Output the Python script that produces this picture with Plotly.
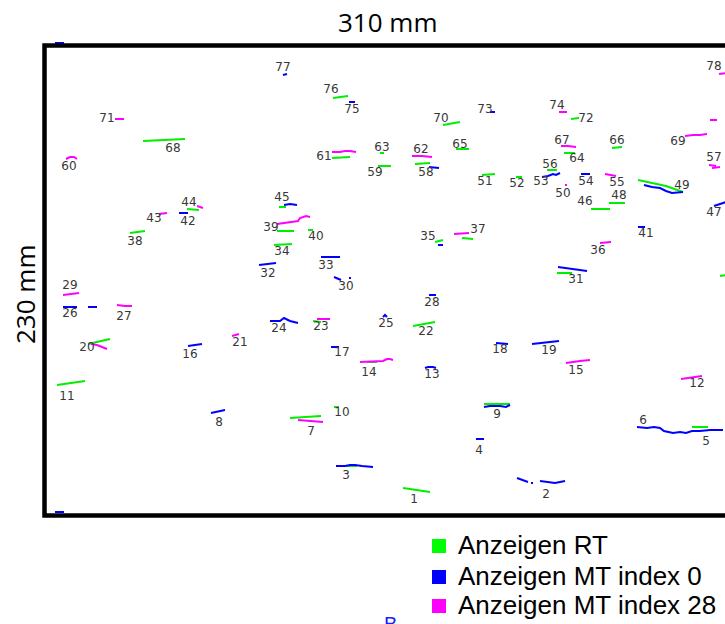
import plotly.graph_objects as go

# ---- data (reference image coordinates, px) ----
# Anzeigen RT (green) indications as polylines
RT_SEGMENTS = [
    [(403, 488), (430, 492)],
    [(340, 466), (357, 466)],
    [(692, 427), (708, 427)],
    [(290, 418), (305, 417), (321, 416)],
    [(484, 404), (510, 404)],
    [(334, 407), (339, 407)],
    [(57, 385), (85, 381)],
    [(367, 362), (377, 362)],
    [(88, 344), (110, 339)],
    [(413, 326), (435, 322)],
    [(313, 321), (321, 322)],
    [(557, 273), (572, 273)],
    [(720, 276), (726, 275)],
    [(274, 245), (292, 244)],
    [(435, 242), (443, 240)],
    [(462, 238), (473, 239)],
    [(130, 233), (145, 231)],
    [(277, 231), (294, 231)],
    [(308, 230), (313, 230)],
    [(187, 209), (199, 210)],
    [(279, 207), (286, 207)],
    [(591, 209), (610, 209)],
    [(609, 203), (625, 203)],
    [(638, 180), (666, 186), (683, 192)],
    [(482, 175), (495, 174)],
    [(516, 177), (522, 177)],
    [(547, 170), (557, 170)],
    [(415, 164), (430, 163)],
    [(378, 166), (391, 166)],
    [(332, 158), (350, 157)],
    [(380, 153), (384, 153)],
    [(564, 153), (575, 153)],
    [(456, 149), (469, 149)],
    [(612, 148), (622, 147)],
    [(143, 141), (164, 140), (185, 139)],
    [(443, 125), (460, 122)],
    [(571, 119), (579, 118)],
    [(333, 98), (348, 96)],
]

# Anzeigen MT index 0 (blue)
MT0_SEGMENTS = [
    [(517, 478), (522, 480), (528, 482)],
    [(531, 483), (533, 483)],
    [(540, 481), (548, 482), (555, 483), (560, 482), (565, 481)],
    [(336, 466), (345, 466), (350, 465), (355, 465), (362, 466), (373, 467)],
    [(476, 439), (484, 439)],
    [(637, 427), (647, 428), (654, 427), (660, 428), (664, 431), (673, 433),
     (680, 432), (686, 433), (692, 431), (700, 431), (710, 430), (723, 430)],
    [(211, 413), (225, 410)],
    [(484, 407), (490, 406), (500, 406), (506, 407), (510, 405)],
    [(425, 368), (428, 367), (433, 367), (436, 368)],
    [(188, 346), (202, 344)],
    [(331, 347), (339, 347)],
    [(496, 343), (508, 344)],
    [(532, 344), (559, 341)],
    [(270, 321), (280, 321), (284, 318), (290, 321), (298, 323)],
    [(383, 317), (385, 315), (387, 317)],
    [(63, 307), (77, 307)],
    [(88, 307), (97, 307)],
    [(429, 295), (436, 295)],
    [(334, 277), (341, 280)],
    [(349, 278), (351, 278)],
    [(558, 267), (572, 269), (587, 271)],
    [(259, 265), (268, 264), (276, 263)],
    [(321, 257), (340, 257)],
    [(438, 245), (443, 245)],
    [(638, 227), (645, 227)],
    [(179, 213), (188, 213)],
    [(284, 205), (290, 204), (297, 205)],
    [(714, 206), (726, 202)],
    [(644, 185), (652, 187), (660, 188), (666, 191), (672, 193), (683, 192)],
    [(542, 177), (548, 176), (553, 174), (556, 175), (560, 173)],
    [(581, 174), (590, 174)],
    [(429, 167), (439, 168)],
    [(490, 112), (495, 112)],
    [(349, 102), (355, 102)],
    [(283, 75), (287, 74)],
    [(55, 43), (64, 43)],
    [(55, 512), (64, 512)],
]

# Anzeigen MT index 28 (magenta)
MT28_SEGMENTS = [
    [(298, 420), (310, 421), (323, 422)],
    [(681, 379), (690, 378), (702, 376)],
    [(360, 362), (375, 361), (383, 361), (387, 359), (390, 359), (393, 360)],
    [(566, 363), (572, 362), (580, 361), (590, 360)],
    [(91, 344), (97, 345), (107, 349)],
    [(232, 336), (239, 334)],
    [(317, 319), (330, 319)],
    [(117, 305), (125, 306), (132, 306)],
    [(63, 295), (71, 294), (79, 293)],
    [(600, 243), (611, 242)],
    [(454, 234), (469, 233)],
    [(277, 224), (290, 222), (298, 221), (300, 218), (306, 216), (310, 217)],
    [(159, 214), (167, 213)],
    [(197, 206), (203, 208)],
    [(565, 185), (567, 185)],
    [(605, 174), (610, 175), (616, 176)],
    [(709, 165), (716, 166)],
    [(712, 168), (720, 167)],
    [(66, 159), (70, 157), (74, 157), (77, 159)],
    [(332, 152), (340, 152), (345, 151), (350, 151), (356, 152)],
    [(412, 156), (422, 156), (432, 157)],
    [(561, 146), (568, 146), (576, 147)],
    [(685, 136), (693, 135), (700, 135), (707, 134)],
    [(115, 119), (124, 119)],
    [(559, 112), (567, 112)],
    [(719, 74), (726, 73)],
    [(710, 120), (717, 120)],
]

LABEL_IDS = list(range(1, 79))
LABEL_X = [414, 546, 346, 479, 706, 643, 311, 219, 497, 342,
           67, 697, 432, 369, 576, 190, 342, 500, 549, 87,
           240, 426, 321, 279, 386, 70, 124, 432, 70, 346,
           576, 268, 326, 282, 428, 598, 478, 135, 271, 316,
           646, 188, 154, 189, 282, 585, 714, 619, 682, 563,
           485, 517, 541, 586, 617, 550, 714, 426, 375, 69,
           324, 421, 382, 577, 460, 617, 562, 173, 678, 441,
           107, 586, 485, 557, 352, 331, 283, 714]
LABEL_Y = [500, 495, 476, 451, 442, 421, 432, 423, 415, 413,
           397, 384, 375, 373, 371, 355, 353, 350, 351, 348,
           343, 332, 327, 329, 324, 314, 317, 303, 286, 287,
           280, 274, 266, 252, 237, 251, 230, 242, 228, 237,
           234, 222, 219, 203, 198, 202, 213, 196, 186, 194,
           182, 184, 182, 182, 183, 165, 158, 173, 173, 167,
           157, 150, 148, 159, 145, 141, 141, 149, 142, 119,
           119, 119, 110, 106, 110, 90, 68, 67]

SERIES_NAMES = ["Anzeigen RT", "Anzeigen MT index 0", "Anzeigen MT index 28"]
TITLE_X = "310 mm"
TITLE_Y = "230 mm"

# ---- styles ----
COLORS = ["#00ee00", "#0000ff", "#ff00ff"]
LEGEND_COLORS = ["#00ff00", "#0000ff", "#ff00ff"]


def flatten(segs):
    xs, ys = [], []
    for seg in segs:
        for x, y in seg:
            xs.append(x)
            ys.append(y)
        xs.append(None)
        ys.append(None)
    return xs, ys


fig = go.Figure()

for segs, col, name in zip([RT_SEGMENTS, MT0_SEGMENTS, MT28_SEGMENTS], COLORS, SERIES_NAMES):
    xs, ys = flatten(segs)
    fig.add_trace(go.Scatter(x=xs, y=ys, mode="lines", name=name,
                             line=dict(color=col, width=2),
                             hoverinfo="skip", showlegend=False))

fig.add_trace(go.Scatter(x=LABEL_X, y=LABEL_Y, mode="text",
                         text=[str(i) for i in LABEL_IDS],
                         textposition="middle center",
                         textfont=dict(family="DejaVu Sans", size=12, color="#383838"),
                         hoverinfo="skip", showlegend=False, cliponaxis=False))

shapes = [dict(type="rect", xref="x", yref="y", x0=44.5, x1=780, y0=45.5, y1=515.5,
               line=dict(color="black", width=4.5), fillcolor="rgba(0,0,0,0)")]

annotations = [
    dict(x=388, y=22, xref="x", yref="y", text=TITLE_X, showarrow=False,
         font=dict(family="Open Sans", size=26, color="black"),
         xanchor="center", yanchor="middle"),
    dict(x=25, y=294, xref="x", yref="y", text=TITLE_Y, showarrow=False, textangle=-90,
         font=dict(family="Open Sans", size=26, color="black"),
         xanchor="center", yanchor="middle"),
]

legend_y = [546, 577, 606]
for name, col, ly in zip(SERIES_NAMES, LEGEND_COLORS, legend_y):
    shapes.append(dict(type="rect", xref="x", yref="y", x0=432, x1=446,
                       y0=ly - 7, y1=ly + 7, line=dict(width=0), fillcolor=col))
    annotations.append(dict(x=456, y=ly - 1, xref="x", yref="y", text=name,
                            showarrow=False, xanchor="left", yanchor="middle",
                            font=dict(family="Liberation Sans", size=26, color="black")))

annotations.append(dict(x=390, y=611, xref="x", yref="y", text="B", showarrow=False,
                        xanchor="center", yanchor="top",
                        font=dict(family="Liberation Sans", size=20, color="#2020ff")))

fig.update_layout(
    width=725, height=624,
    margin=dict(l=0, r=0, t=0, b=0),
    paper_bgcolor="white", plot_bgcolor="white",
    xaxis=dict(range=[0, 725], visible=False, fixedrange=True),
    yaxis=dict(range=[624, 0], visible=False, fixedrange=True),
    shapes=shapes, annotations=annotations,
    showlegend=False,
)

fig.write_html("out.html", post_script="document.body.style.margin='0';",
               config={"displayModeBar": False})
